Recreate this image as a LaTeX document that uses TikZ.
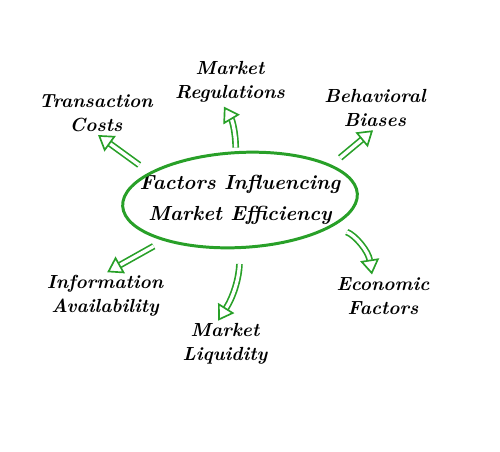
\documentclass[tikz,border=0pt]{standalone}
\usetikzlibrary{arrows.meta,shapes.geometric}
\definecolor{leafgreen}{RGB}{40,160,40}
\tikzset{
	label/.style={font=\fontsize{10.8}{13.5}\selectfont\bfseries\itshape, align=center, inner sep=1pt},
	hollowarrow/.style={draw=leafgreen, line width=0.95pt, double=white, double distance=1.9pt,
		-{Triangle[open, line width=0.95pt, length=0.3cm, width=0.38cm]}},
}
\begin{document}
\begin{tikzpicture}
	\useasboundingbox (0,0) rectangle (10,9.02);
	
	% centre
	\node[font=\fontsize{11.6}{18}\selectfont\bfseries\itshape, align=center] (hub) at (4.8,5.02)
	{Factors Influencing\\Market Efficiency};
	\node[ellipse, draw=leafgreen, line width=1.7pt, minimum width=4.7cm, minimum height=1.9cm,
	rotate=3, inner sep=0pt] (ring) at (4.8,5.02) {};
	
	% factors
	\node[label] (regs) at (4.6,7.38) {Market\\Regulations};
	\node[label] (costs) at (1.92,6.76) {Transaction\\Costs};
	\node[label] (biases) at (7.5,6.86) {Behavioral\\Biases};
	\node[label] (info) at (2.1,3.1) {Information\\Availability};
	\node[label] (liquid) at (4.5,2.14) {Market\\Liquidity};
	\node[label] (econ) at (7.66,3.1) {Economic\\Factors};
	
	% arrows
	\draw[hollowarrow, shorten <=0.25cm, shorten >=0.05cm] (ring.160) -- (costs.south);
	\draw[hollowarrow, shorten <=0.07cm, shorten >=0.05cm] (ring.92) to[bend right=15] (regs.252);
	\draw[hollowarrow, shorten <=0.22cm, shorten >=0.05cm] (ring.18) -- (biases.south);
	\draw[hollowarrow, shorten <=0.22cm, shorten >=0.05cm] (ring.205) -- (info.north);
	\draw[hollowarrow, shorten <=0.3cm, shorten >=0.02cm] (ring.-93) to[bend left=15] (liquid.108);
	\draw[hollowarrow, shorten <=0.3cm, shorten >=0.02cm] (ring.-19) to[bend left=30] (econ.118);
	
\end{tikzpicture}
\end{document}
